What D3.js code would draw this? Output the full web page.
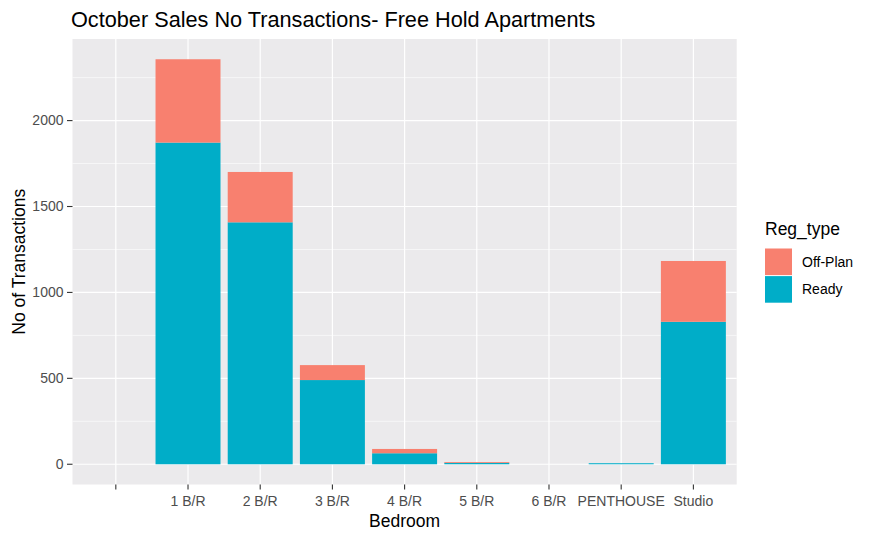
<!DOCTYPE html>
<html>
<head>
<meta charset="utf-8">
<script src="https://cdn.jsdelivr.net/npm/d3@7"></script>
<style>
  html, body { margin: 0; padding: 0; background: #fff; }
  svg { display: block; font-family: "Liberation Sans", Arial, sans-serif; }
</style>
</head>
<body>
<svg id="chart" width="875" height="540"></svg>
<script>
// ---- data ----
const categories = ["", "1 B/R", "2 B/R", "3 B/R", "4 B/R", "5 B/R", "6 B/R", "PENTHOUSE", "Studio"];
const readyValues   = [0, 1872, 1408, 490, 64, 8, 0, 6, 829];
const offPlanValues = [0,  485,  293,  87, 25, 5, 0, 0, 354];
const seriesNames = ["Off-Plan", "Ready"];
const yTicks = [0, 500, 1000, 1500, 2000];
const yMinorTicks = [250, 750, 1250, 1750, 2250];

const colors = { "Off-Plan": "#F8806F", "Ready": "#00ADC8" };

// ---- layout ----
const svg = d3.select("#chart");
const panel = { left: 72.5, right: 736.7, top: 39, bottom: 484.5 };

const rows = categories.map((c, i) => ({ cat: c, i, "Ready": readyValues[i], "Off-Plan": offPlanValues[i] }));
const stack = d3.stack().keys(["Ready", "Off-Plan"]);
const stacked = stack(rows);

const maxTotal = d3.max(rows, d => d.Ready + d["Off-Plan"]);
const y = d3.scaleLinear()
  .domain([-0.05 * maxTotal, 1.05 * maxTotal])
  .range([panel.bottom, panel.top]);

const x = d3.scaleLinear()
  .domain([-0.6, categories.length - 1 + 0.6])
  .range([panel.left, panel.right]);
const step = x(1) - x(0);
const barW = 0.9 * step;

// panel background
svg.append("rect")
  .attr("x", panel.left).attr("y", panel.top)
  .attr("width", panel.right - panel.left).attr("height", panel.bottom - panel.top)
  .attr("fill", "#EBEAEC");

// grid
const grid = svg.append("g");
grid.selectAll("line.minor").data(yMinorTicks.filter(v => y(v) >= panel.top)).enter().append("line")
  .attr("x1", panel.left).attr("x2", panel.right)
  .attr("y1", d => y(d)).attr("y2", d => y(d))
  .attr("stroke", "#fff").attr("stroke-width", 0.6);
grid.selectAll("line.majory").data(yTicks).enter().append("line")
  .attr("x1", panel.left).attr("x2", panel.right)
  .attr("y1", d => y(d)).attr("y2", d => y(d))
  .attr("stroke", "#fff").attr("stroke-width", 1.2);
grid.selectAll("line.majorx").data(categories.map((c, i) => i)).enter().append("line")
  .attr("y1", panel.top).attr("y2", panel.bottom)
  .attr("x1", d => x(d)).attr("x2", d => x(d))
  .attr("stroke", "#fff").attr("stroke-width", 1.2);

// bars
const barsG = svg.append("g");
stacked.forEach(layer => {
  barsG.selectAll(null).data(layer).enter().append("rect")
    .attr("x", (d, i) => x(i) - barW / 2)
    .attr("width", barW)
    .attr("y", d => y(d[1]))
    .attr("height", d => Math.max(0, y(d[0]) - y(d[1])))
    .attr("fill", colors[layer.key]);
});

// y axis
const yAxis = svg.append("g");
yAxis.selectAll("line").data(yTicks).enter().append("line")
  .attr("x1", panel.left - 5.5).attr("x2", panel.left)
  .attr("y1", d => y(d)).attr("y2", d => y(d))
  .attr("stroke", "#333").attr("stroke-width", 1.1);
yAxis.selectAll("text").data(yTicks).enter().append("text")
  .attr("x", panel.left - 9).attr("y", d => y(d))
  .attr("dy", "0.35em")
  .attr("text-anchor", "end")
  .attr("font-size", 14).attr("fill", "#4D4D4D")
  .text(d => d);

// x axis
const xAxis = svg.append("g");
xAxis.selectAll("line").data(categories).enter().append("line")
  .attr("x1", (d, i) => x(i)).attr("x2", (d, i) => x(i))
  .attr("y1", panel.bottom).attr("y2", panel.bottom + 5)
  .attr("stroke", "#333").attr("stroke-width", 1.1);
xAxis.selectAll("text").data(categories).enter().append("text")
  .attr("x", (d, i) => x(i)).attr("y", 506)
  .attr("text-anchor", "middle")
  .attr("font-size", 14).attr("fill", "#4D4D4D")
  .text(d => d);

// axis titles
svg.append("text")
  .attr("x", (panel.left + panel.right) / 2).attr("y", 527)
  .attr("text-anchor", "middle").attr("font-size", 17.5).attr("fill", "#000")
  .text("Bedroom");
svg.append("text")
  .attr("transform", `translate(25,${(panel.top + panel.bottom) / 2}) rotate(-90)`)
  .attr("text-anchor", "middle").attr("font-size", 17.5).attr("fill", "#000")
  .text("No of Transactions");

// title
svg.append("text")
  .attr("x", 71).attr("y", 27)
  .attr("font-size", 21.7).attr("fill", "#000")
  .text("October Sales No Transactions- Free Hold Apartments");

// legend
const lg = svg.append("g");
lg.append("text").attr("x", 765).attr("y", 235)
  .attr("font-size", 17.5).attr("fill", "#000").text("Reg_type");
seriesNames.forEach((name, k) => {
  const ky = 248 + k * 27.6;
  lg.append("rect").attr("x", 765).attr("y", ky + 0.5)
    .attr("width", 27).attr("height", 26.6)
    .attr("fill", colors[name]);
  lg.append("text").attr("x", 802).attr("y", ky + 13.8)
    .attr("dy", "0.35em").attr("font-size", 14).attr("fill", "#000")
    .text(name);
});
</script>
</body>
</html>
